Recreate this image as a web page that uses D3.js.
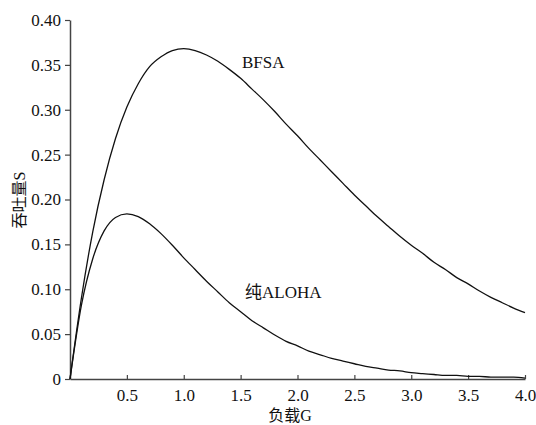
<!DOCTYPE html>
<html>
<head>
<meta charset="utf-8">
<script src="https://cdn.jsdelivr.net/npm/d3@7"></script>
<style>
  body { margin: 0; background: #fff; }
  text { font-family: "Liberation Serif", "Noto Sans CJK SC", serif; fill: #111; }
  .cjk { font-family: "Noto Sans CJK SC", sans-serif; }
</style>
</head>
<body>
<div id="chart"></div>
<script>
const loadG = [0, 0.1, 0.2, 0.3, 0.4, 0.5, 0.6, 0.7, 0.8, 0.9, 1.0, 1.1, 1.2, 1.3, 1.4, 1.5, 1.6, 1.7, 1.8, 1.9, 2.0,
  2.1, 2.2, 2.3, 2.4, 2.5, 2.6, 2.7, 2.8, 2.9, 3.0, 3.1, 3.2, 3.3, 3.4, 3.5, 3.6, 3.7, 3.8, 3.9, 4.0];
const bfsaS = [0, 0.090, 0.164, 0.222, 0.268, 0.303, 0.329, 0.348, 0.359, 0.366, 0.368, 0.366, 0.361, 0.354, 0.345,
  0.335, 0.323, 0.311, 0.298, 0.284, 0.271, 0.257, 0.244, 0.231, 0.218, 0.205, 0.193, 0.181, 0.170, 0.159, 0.149,
  0.140, 0.130, 0.122, 0.113, 0.106, 0.098, 0.091, 0.085, 0.079, 0.074];
const alohaS = [0, 0.082, 0.134, 0.165, 0.180, 0.184, 0.181, 0.173, 0.162, 0.149, 0.135, 0.122, 0.109, 0.097, 0.085,
  0.075, 0.065, 0.057, 0.049, 0.042, 0.037, 0.031, 0.027, 0.023, 0.020, 0.017, 0.014, 0.012, 0.010, 0.009, 0.007,
  0.006, 0.005, 0.004, 0.004, 0.003, 0.003, 0.002, 0.002, 0.002, 0.001];
const xTicks = [0.5, 1.0, 1.5, 2.0, 2.5, 3.0, 3.5, 4.0];
const yTicks = [0, 0.05, 0.10, 0.15, 0.20, 0.25, 0.30, 0.35, 0.40];

const width = 536, height = 425;
const margin = { top: 20, right: 11, bottom: 46, left: 70 };
const serif = '"Liberation Serif", serif';

const svg = d3.select('#chart').append('svg')
  .attr('width', width).attr('height', height);

const x = d3.scaleLinear().domain([0, 4]).range([margin.left, width - margin.right]);
const y = d3.scaleLinear().domain([0, 0.4]).range([height - margin.bottom, margin.top]);

// axes
const xAxis = svg.append('g')
  .attr('transform', `translate(0,${y(0)})`)
  .call(d3.axisBottom(x).tickValues(xTicks).tickSizeInner(-4).tickSizeOuter(0)
    .tickFormat(d3.format('.1f')).tickPadding(10));
const yAxis = svg.append('g')
  .attr('transform', `translate(${x(0)},0)`)
  .call(d3.axisLeft(y).tickValues(yTicks).tickSizeInner(5).tickSizeOuter(0)
    .tickFormat(d => d === 0 ? '0' : d3.format('.2f')(d)).tickPadding(4));

[xAxis, yAxis].forEach(a => {
  a.attr('font-family', null);
  a.select('.domain').attr('stroke', '#444').attr('stroke-width', 1.5);
  a.selectAll('.tick line').attr('stroke', '#444').attr('stroke-width', 1.2);
  a.selectAll('.tick text').attr('font-size', 17).attr('fill', '#111')
    .style('font-family', serif);
});

// curves
const line = d3.line()
  .x((d, i) => x(loadG[i]))
  .y(d => y(d))
  .curve(d3.curveMonotoneX);

[bfsaS, alohaS].forEach(s => {
  svg.append('path')
    .attr('d', line(s))
    .attr('fill', 'none')
    .attr('stroke', '#111')
    .attr('stroke-width', 1.3);
});

// mixed labels: Chinese part + latin part
function label(sel, cn, lat) {
  sel.append('tspan').attr('class', 'cjk').text(cn);
  sel.append('tspan').style('font-family', serif).text(lat);
  return sel;
}

svg.append('text').attr('x', 242).attr('y', 68).attr('font-size', 17)
  .style('font-family', serif).text('BFSA');
label(svg.append('text').attr('x', 245).attr('y', 298).attr('font-size', 17), '纯', 'ALOHA');

label(svg.append('text')
  .attr('x', 290).attr('y', 421)
  .attr('text-anchor', 'middle').attr('font-size', 16), '负载', 'G');

label(svg.append('text')
  .attr('transform', `translate(25,200) rotate(-90)`)
  .attr('text-anchor', 'middle').attr('font-size', 16), '吞吐量', 'S');
</script>
</body>
</html>
